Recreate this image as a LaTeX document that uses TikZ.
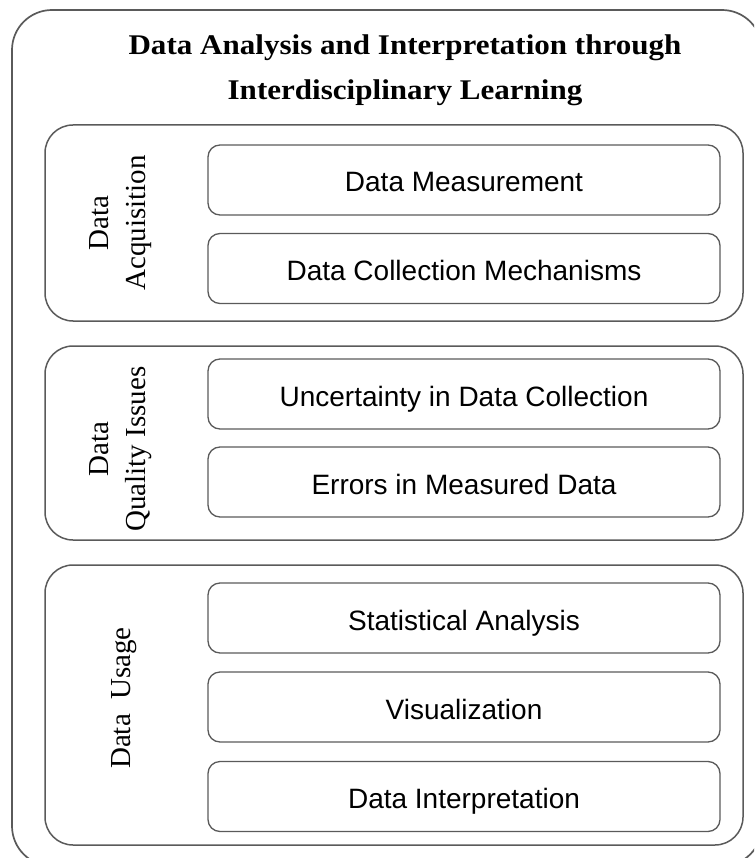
\documentclass[tikz,border=0pt]{standalone}
\usepackage{fontspec}
\setmainfont{Liberation Serif}
\setsansfont{Liberation Sans}
\definecolor{linegray}{HTML}{5A5A5A}
\begin{document}
\begin{tikzpicture}[x=1pt,y=-1pt,
  frame/.style={draw=linegray, line width=1.7pt, rounded corners=40pt, inner sep=0pt},
  panel/.style={draw=linegray, line width=1.5pt, rounded corners=28pt, inner sep=0pt,
    minimum width=698pt},
  item/.style={draw=linegray, line width=1.3pt, rounded corners=12pt, inner sep=0pt,
    minimum width=512pt, minimum height=70pt, text height=24pt, text depth=0pt,
    font=\sffamily\fontsize{28}{32}\selectfont},
  side/.style={rotate=90, align=center, inner sep=0pt, font=\rmfamily\fontsize{29}{37}\selectfont},
  titletext/.style={anchor=base, inner sep=0pt, font=\rmfamily\bfseries\fontsize{28.5}{34}\selectfont}
]
\useasboundingbox (0,0) rectangle (754,858);
\clip (0,0) rectangle (754,858);

% outer frame
\node[frame, minimum width=750pt, minimum height=856pt] (outer) at (387,438) {};

% title
\node[titletext] (title1) at (405,55) {\scalebox{1.09}[1]{Data Analysis and Interpretation through}};
\node[titletext] (title2) at (405,100) {\scalebox{1.09}[1]{Interdisciplinary Learning}};

% panels
\node[panel, minimum height=196pt] (p1) at (394,223) {};
\node[panel, minimum height=194pt] (p2) at (394,443) {};
\node[panel, minimum height=280pt] (p3) at (394,705) {};

% side labels
\node[side] (l1) at (121,223) {Data\\Acquisition};
\node[side] (l2) at (121,449) {Data\\Quality Issues};
\node[side] (l3) at (124,698) {Data\ \ Usage};

% items
\node[item] (a1) at (464,180) {Data Measurement};
\node[item] (a2) at (464,268.5) {Data Collection Mechanisms};
\node[item] (b1) at (464,394) {Uncertainty in Data Collection};
\node[item] (b2) at (464,482) {Errors in Measured Data};
\node[item] (c1) at (464,618) {Statistical Analysis};
\node[item] (c2) at (464,707) {Visualization};
\node[item] (c3) at (464,796.5) {Data Interpretation};
\end{tikzpicture}
\end{document}
